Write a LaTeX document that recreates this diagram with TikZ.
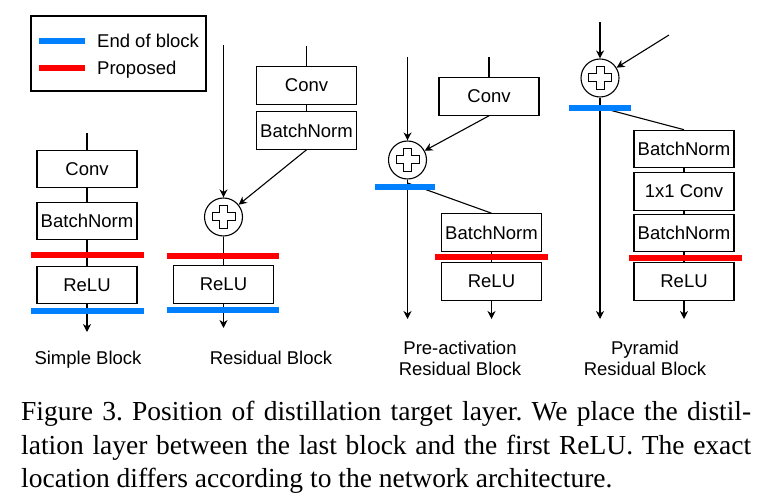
\documentclass[tikz,border=0pt]{standalone}
\usepackage{fontspec}
\newfontfamily\dfont{Liberation Sans}
\newfontfamily\capfont{Liberation Serif}
\usetikzlibrary{arrows.meta}
\definecolor{barblue}{RGB}{0,127,255}
\definecolor{barred}{RGB}{255,0,0}
\frenchspacing
\begin{document}
\begin{tikzpicture}[x=1pt,y=-1pt,
  blk/.style={draw, line width=1.1pt, minimum width=100pt, minimum height=37.5pt, inner sep=0pt, font=\dfont\fontsize{18.5}{21}\selectfont},
  bar/.style={line width=6pt},
  conn/.style={line width=1.1pt},
  arr/.style={conn,-{Stealth[length=8pt,width=8pt,inset=2.5pt]}},
  sumc/.style={circle, draw, line width=1.1pt, minimum size=38pt, inner sep=0pt},
  lbl/.style={font=\dfont\fontsize{18.5}{21}\selectfont, inner sep=0pt},
  captext/.style={font=\capfont\fontsize{27.5}{33}\selectfont, inner sep=0pt, anchor=base west},
  pics/crossmark/.style={code={\draw[line width=1pt] (-4,-11.5) -- (4,-11.5) -- (4,-4) -- (11.5,-4) -- (11.5,4) -- (4,4) -- (4,11.5) -- (-4,11.5) -- (-4,4) -- (-11.5,4) -- (-11.5,-4) -- (-4,-4) -- cycle;}}
]
\useasboundingbox (0,0) rectangle (766,502);

% ---------- legend ----------
\node[draw, line width=1.1pt, minimum width=175pt, minimum height=75pt, inner sep=0pt] (legend) at (118.5,53.5) {};
\coordinate (lb1) at (39,41); \coordinate (lb2) at (85,41);
\coordinate (lr1) at (39,68); \coordinate (lr2) at (85,68);
\draw[bar,barblue] (lb1) -- (lb2);
\draw[bar,barred] (lr1) -- (lr2);
\node[lbl, anchor=base west] (lt1) at (97,47.6) {End of block};
\node[lbl, anchor=base west] (lt2) at (97,74.8) {Proposed};

% ---------- simple block ----------
\node[blk] (sConv) at (87,169) {Conv};
\node[blk] (sBN) at (87,221) {BatchNorm};
\node[blk] (sRelu) at (87,285) {ReLU};
\coordinate (sTop) at (87,133);
\coordinate (sEnd) at (87,332);
\draw[conn] (sTop) -- (sConv.north);
\draw[conn] (sConv) -- (sBN);
\draw[conn] (sBN) -- (sRelu);
\draw[arr] (sRelu.south) -- (sEnd);
\coordinate (sr1) at (31,255); \coordinate (sr2) at (144,255);
\coordinate (sb1) at (31,311); \coordinate (sb2) at (144,311);
\draw[bar,barred] (sr1) -- (sr2);
\draw[bar,barblue] (sb1) -- (sb2);
\node[lbl, anchor=base] (sLbl) at (88,365) {Simple Block};

% ---------- residual block ----------
\node[blk] (rConv) at (306.5,85.5) {Conv};
\node[blk] (rBN) at (306.5,130.5) {BatchNorm};
\node[sumc] (rSum) at (223.5,217) {};
\pic at (rSum.center) {crossmark};
\node[blk] (rRelu) at (223.5,284.5) {ReLU};
\coordinate (rTop1) at (223.5,45);
\coordinate (rTop2) at (306.5,46);
\coordinate (rEnd) at (223.5,328);
\draw[arr] (rTop1) -- (rSum);
\draw[conn] (rTop2) -- (rConv.north);
\draw[conn] (rConv) -- (rBN);
\draw[arr] (rBN.south) -- (rSum);
\draw[conn] (rSum) -- (rRelu);
\draw[arr] (rRelu.south) -- (rEnd);
\coordinate (rr1) at (167,256); \coordinate (rr2) at (279,256);
\coordinate (rb1) at (167,310); \coordinate (rb2) at (279,310);
\draw[bar,barred] (rr1) -- (rr2);
\draw[bar,barblue] (rb1) -- (rb2);
\node[lbl, anchor=base] (rLbl) at (271,365) {Residual Block};

% ---------- pre-activation residual block ----------
\node[blk] (pConv) at (489,96.5) {Conv};
\node[sumc] (pSum) at (407.5,160) {};
\pic at (pSum.center) {crossmark};
\node[blk] (pBN) at (491.5,232.5) {BatchNorm};
\node[blk] (pRelu) at (491.5,281.5) {ReLU};
\coordinate (pTop1) at (407.5,57);
\coordinate (pTop2) at (489,57);
\coordinate (pBr) at (407.5,183);
\coordinate (pEnd1) at (407.5,319);
\coordinate (pEnd2) at (491.5,319);
\draw[arr] (pTop1) -- (pSum);
\draw[conn] (pTop2) -- (pConv.north);
\draw[arr] (pConv.south) -- (pSum);
\draw[arr] (pSum.south) -- (pEnd1);
\draw[conn] (pBr) -- (pBN.north);
\draw[conn] (pBN) -- (pRelu);
\draw[arr] (pRelu.south) -- (pEnd2);
\coordinate (pb1) at (375,187); \coordinate (pb2) at (435,187);
\coordinate (pr1) at (435,257); \coordinate (pr2) at (548,257);
\draw[bar,barblue] (pb1) -- (pb2);
\draw[bar,barred] (pr1) -- (pr2);
\node[lbl, anchor=base] (pLbl1) at (460,354.5) {Pre-activation};
\node[lbl, anchor=base] (pLbl2) at (460,376) {Residual Block};

% ---------- pyramid residual block ----------
\node[sumc] (ySum) at (600,78) {};
\pic at (ySum.center) {crossmark};
\node[blk] (yBN1) at (684,149) {BatchNorm};
\node[blk] (yConv) at (684,191.5) {1x1 Conv};
\node[blk] (yBN2) at (684,233) {BatchNorm};
\node[blk] (yRelu) at (684,281.5) {ReLU};
\coordinate (yTop1) at (600,22);
\coordinate (yIn) at (669,35);
\coordinate (yBr) at (600,107.5);
\coordinate (yEnd1) at (600,319);
\coordinate (yEnd2) at (684,319);
\draw[arr] (yTop1) -- (ySum);
\draw[arr] (yIn) -- (ySum);
\draw[arr] (ySum.south) -- (yEnd1);
\draw[conn] (yBr) -- (yBN1.north);
\draw[conn] (yBN1) -- (yConv);
\draw[conn] (yConv) -- (yBN2);
\draw[conn] (yBN2) -- (yRelu);
\draw[arr] (yRelu.south) -- (yEnd2);
\coordinate (yb1) at (569,108); \coordinate (yb2) at (631,108);
\coordinate (yr1) at (629,258); \coordinate (yr2) at (742,258);
\draw[bar,barblue] (yb1) -- (yb2);
\draw[bar,barred] (yr1) -- (yr2);
\node[lbl, anchor=base] (yLbl1) at (645,354.5) {Pyramid};
\node[lbl, anchor=base] (yLbl2) at (645,376) {Residual Block};

% ---------- caption ----------
\node[captext] (cap1) at (21,421) {\makebox[730pt][s]{Figure 3. Position of distillation target layer. We place the distil-}};
\node[captext] (cap2) at (21,454) {\makebox[730pt][s]{lation layer between the last block and the first ReLU. The exact}};
\node[captext] (cap3) at (21,487) {location differs according to the network architecture.};
\end{tikzpicture}
\end{document}
